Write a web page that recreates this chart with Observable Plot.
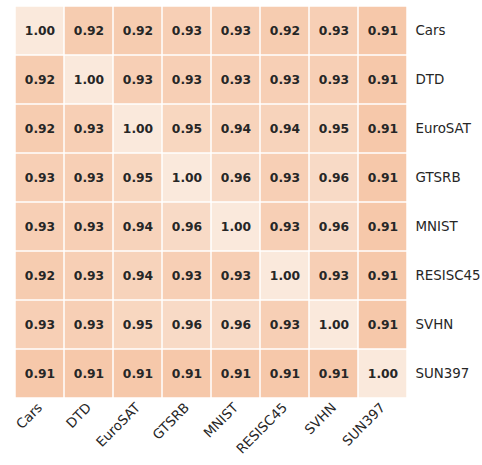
<!DOCTYPE html>
<html>
<head>
<meta charset="utf-8">
<script src="https://cdn.jsdelivr.net/npm/d3@7"></script>
<script src="https://cdn.jsdelivr.net/npm/@observablehq/plot@0.6"></script>
<style>
  html, body { margin: 0; padding: 0; background: #fff; }
</style>
</head>
<body>
<div id="chart"></div>
<script>
const datasets = ["Cars", "DTD", "EuroSAT", "GTSRB", "MNIST", "RESISC45", "SVHN", "SUN397"];
const rowCars     = [1.00, 0.92, 0.92, 0.93, 0.93, 0.92, 0.93, 0.91];
const rowDTD      = [0.92, 1.00, 0.93, 0.93, 0.93, 0.93, 0.93, 0.91];
const rowEuroSAT  = [0.92, 0.93, 1.00, 0.95, 0.94, 0.94, 0.95, 0.91];
const rowGTSRB    = [0.93, 0.93, 0.95, 1.00, 0.96, 0.93, 0.96, 0.91];
const rowMNIST    = [0.93, 0.93, 0.94, 0.96, 1.00, 0.93, 0.96, 0.91];
const rowRESISC45 = [0.92, 0.93, 0.94, 0.93, 0.93, 1.00, 0.93, 0.91];
const rowSVHN     = [0.93, 0.93, 0.95, 0.96, 0.96, 0.93, 1.00, 0.91];
const rowSUN397   = [0.91, 0.91, 0.91, 0.91, 0.91, 0.91, 0.91, 1.00];
const rows = [rowCars, rowDTD, rowEuroSAT, rowGTSRB, rowMNIST, rowRESISC45, rowSVHN, rowSUN397];

const table = [];
rows.forEach((r, i) => r.forEach((v, j) => table.push({row: datasets[i], col: datasets[j], value: v})));

const chart = Plot.plot({
  width: 482,
  height: 465,
  marginLeft: 12,
  marginTop: 3,
  marginRight: 73,
  marginBottom: 64,
  style: {fontFamily: "DejaVu Sans", background: "#fff", color: "#262626"},
  x: {domain: datasets, padding: 0, label: null},
  y: {domain: datasets, padding: 0, label: null},
  color: {type: "linear", domain: [0.91, 1.0], range: ["#f6c8aa", "#fae9dc"]},
  marks: [
    Plot.cell(table, {x: "col", y: "row", fill: "value", inset: 0.75}),
    Plot.text(table, {x: "col", y: "row", text: d => d.value.toFixed(2), fontWeight: "bold", fontSize: 12.3, fill: "#262626"}),
    Plot.axisY({anchor: "right", tickSize: 0, tickPadding: 6, fontSize: 13.4, label: null}),
    Plot.axisX({anchor: "bottom", tickSize: 0, tickPadding: 4, tickRotate: -45, fontSize: 13.4, label: null})
  ]
});
document.getElementById("chart").append(chart);
</script>
</body>
</html>
